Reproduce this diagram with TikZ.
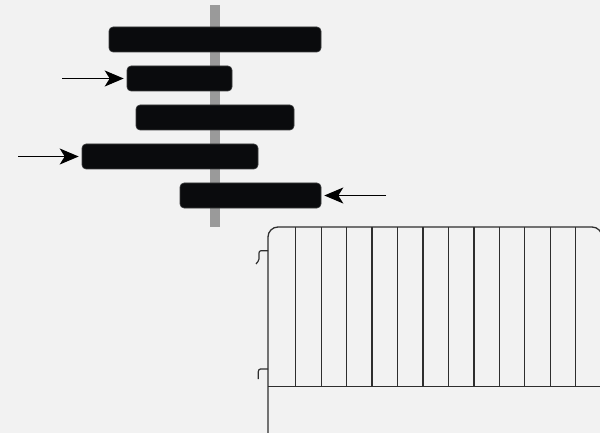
\documentclass[tikz,border=0pt]{standalone}
\usetikzlibrary{arrows.meta}
\definecolor{bg}{HTML}{F2F2F2}
\definecolor{barblack}{HTML}{0A0B0D}
\definecolor{axisgray}{HTML}{9A9A9A}
\definecolor{fence}{HTML}{2E2E2E}
\tikzset{
  bar/.style={draw=barblack!80!white, line width=0.6pt, fill=barblack, rounded corners=4pt, minimum height=25pt, inner sep=0pt},
  pusharrow/.style={line width=1.5pt, -{Stealth[length=19pt, width=16pt, inset=5pt]}, shorten >=3pt},
  fenceline/.style={draw=fence, line width=1.3pt}
}
\begin{document}
\begin{tikzpicture}[x=1pt, y=-1pt]
\useasboundingbox[fill=bg] (0,0) rectangle (600,433);
% vertical axis
\fill[axisgray] (210,5) rectangle (220,227);
% bars
\node[bar, minimum width=212pt] (b1) at (215,39.5) {};
\node[bar, minimum width=105pt] (b2) at (179.5,78.5) {};
\node[bar, minimum width=158pt] (b3) at (215,117.5) {};
\node[bar, minimum width=176pt] (b4) at (170,156.5) {};
\node[bar, minimum width=141pt] (b5) at (250.5,195.5) {};
% arrows
\coordinate (a1) at (62,78.5);
\coordinate (a2) at (18,156.5);
\coordinate (a3) at (386,195.5);
\draw[pusharrow] (a1) -- (b2.west);
\draw[pusharrow] (a2) -- (b4.west);
\draw[pusharrow] (a3) -- (b5.east);
% barrier
\draw[fenceline, rounded corners=10pt] (268,440) -- (268,227) -- (602,227) -- (602,440);
\draw[fenceline] (268,386.5) -- (605,386.5);
\foreach \k in {0,...,11} {
  \draw[fenceline] ({295.7+25.45*\k},227) -- ({295.7+25.45*\k},386.5);
}
% hooks
\draw[fenceline, line width=1.2pt] (268,250.7) -- (261,250.7) to[out=180,in=90] (259,253) -- (259,259) to[out=-90,in=60] (256,264);
\draw[fenceline, line width=1.2pt] (268,369) -- (260.5,369) to[out=180,in=90] (258.3,371.5) -- (258.3,379);
\end{tikzpicture}
\end{document}
